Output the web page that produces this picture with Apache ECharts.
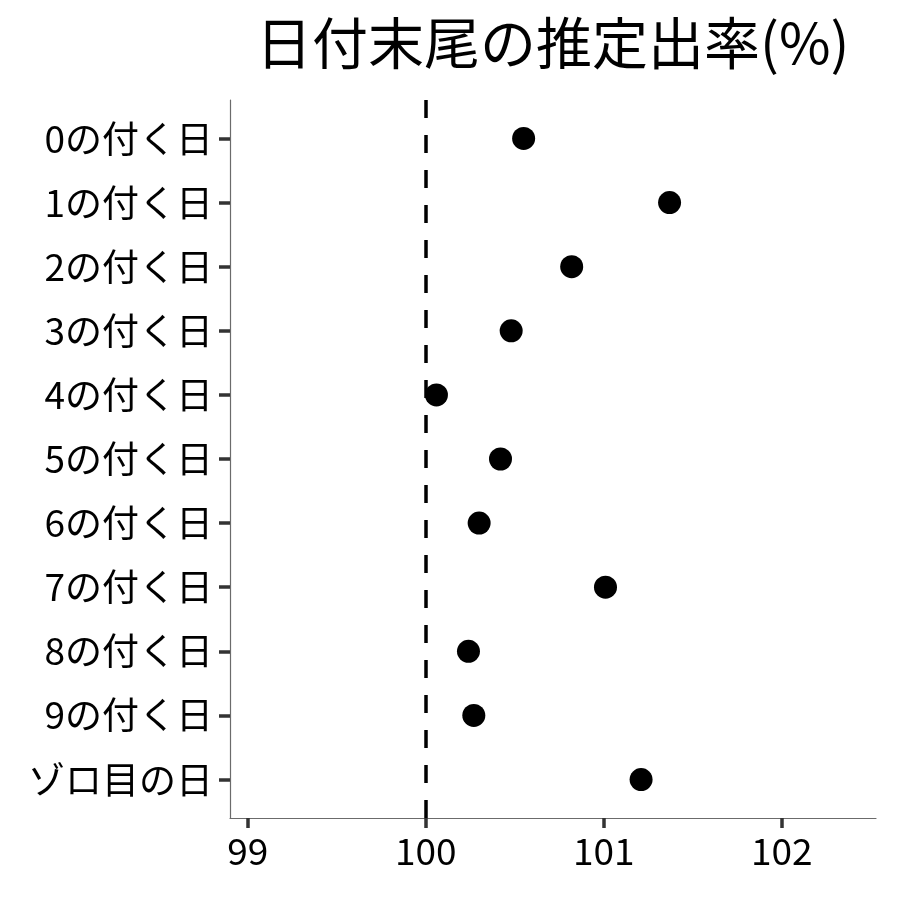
<!DOCTYPE html>
<html>
<head>
<meta charset="utf-8">
<script src="https://cdn.jsdelivr.net/npm/echarts@6/dist/echarts.min.js"></script>
<style>
  html, body { margin: 0; padding: 0; background: #fff; }
  #chart { width: 900px; height: 900px; }
</style>
</head>
<body>
<div id="chart"></div>
<script>
  var categories = ['0の付く日', '1の付く日', '2の付く日', '3の付く日', '4の付く日',
    '5の付く日', '6の付く日', '7の付く日', '8の付く日', '9の付く日', 'ゾロ目の日']
  var rates = [100.55, 101.37, 100.82, 100.48, 100.06, 100.42, 100.30, 101.01, 100.24, 100.27, 101.21]
  var xTicks = [99, 100, 101, 102]
  var baseline = 100

  // panel layout (px) and data ranges, like ggplot's expanded scales
  var W = 900, H = 900
  var panel = { left: 230, right: 24, top: 100, bottom: 82 }
  var xMin = 98.9, xMax = 102.53
  var yMin = -0.6, yMax = categories.length - 1 + 0.6

  var pw = W - panel.left - panel.right
  var ph = H - panel.top - panel.bottom
  function xPx (v) { return panel.left + (v - xMin) / (xMax - xMin) * pw }
  function yPx (v) { return panel.top + (v - yMin) / (yMax - yMin) * ph }

  var font = '"Noto Sans CJK JP", "Noto Sans", sans-serif'
  var points = rates.map(function (v, i) { return [v, i] })
  var tickStyle = { color: '#333', width: 3.5 }

  var myChart = echarts.init(document.getElementById('chart'))
  myChart.setOption({
    animation: false,
    title: {
      text: '日付末尾の推定出率(%)',
      left: 251,
      top: 10,
      textStyle: { fontFamily: font, fontSize: 56, fontWeight: 'normal', color: '#000' }
    },
    grid: [
      // main panel: axis lines, points, reference line
      { left: panel.left, right: panel.right, top: panel.top, bottom: panel.bottom },
      // y ticks / labels
      { left: panel.left, right: panel.right, top: yPx(0), bottom: H - yPx(categories.length - 1) },
      // x ticks / labels
      { left: xPx(xTicks[0]), right: W - xPx(xTicks[xTicks.length - 1]), top: panel.top, bottom: panel.bottom }
    ],
    xAxis: [
      {
        gridIndex: 0, type: 'value', min: xMin, max: xMax,
        splitLine: { show: false }, axisTick: { show: false }, axisLabel: { show: false },
        axisLine: { onZero: false, lineStyle: { color: '#6b6b6b', width: 1.2 } }
      },
      { gridIndex: 1, type: 'value', show: false, min: xMin, max: xMax },
      {
        gridIndex: 2, type: 'value', min: xTicks[0], max: xTicks[xTicks.length - 1], interval: 1,
        splitLine: { show: false }, axisLine: { show: false, onZero: false },
        axisTick: { show: true, length: 10, lineStyle: tickStyle },
        axisLabel: { margin: 14, fontFamily: font, fontSize: 37, color: '#000' }
      }
    ],
    yAxis: [
      {
        gridIndex: 0, type: 'value', inverse: true, min: yMin, max: yMax,
        splitLine: { show: false }, axisTick: { show: false }, axisLabel: { show: false },
        axisLine: { show: true, onZero: false, lineStyle: { color: '#6b6b6b', width: 1.2 } }
      },
      {
        gridIndex: 1, type: 'value', inverse: true, min: 0, max: categories.length - 1, interval: 1,
        splitLine: { show: false }, axisLine: { show: false, onZero: false },
        axisTick: { show: true, length: 11, lineStyle: tickStyle },
        axisLabel: {
          margin: 17, fontFamily: font, fontSize: 37, color: '#000',
          formatter: function (v) { return categories[Math.round(v)] }
        }
      },
      { gridIndex: 2, type: 'value', show: false, min: yMin, max: yMax }
    ],
    series: [{
      type: 'scatter',
      xAxisIndex: 0,
      yAxisIndex: 0,
      data: points,
      symbolSize: 23,
      itemStyle: { color: '#000', opacity: 1 },
      markLine: {
        silent: true,
        symbol: 'none',
        label: { show: false },
        lineStyle: { color: '#000', width: 3.5, type: [18, 17], opacity: 1 },
        data: [{ xAxis: baseline }]
      }
    }]
  })
</script>
</body>
</html>
